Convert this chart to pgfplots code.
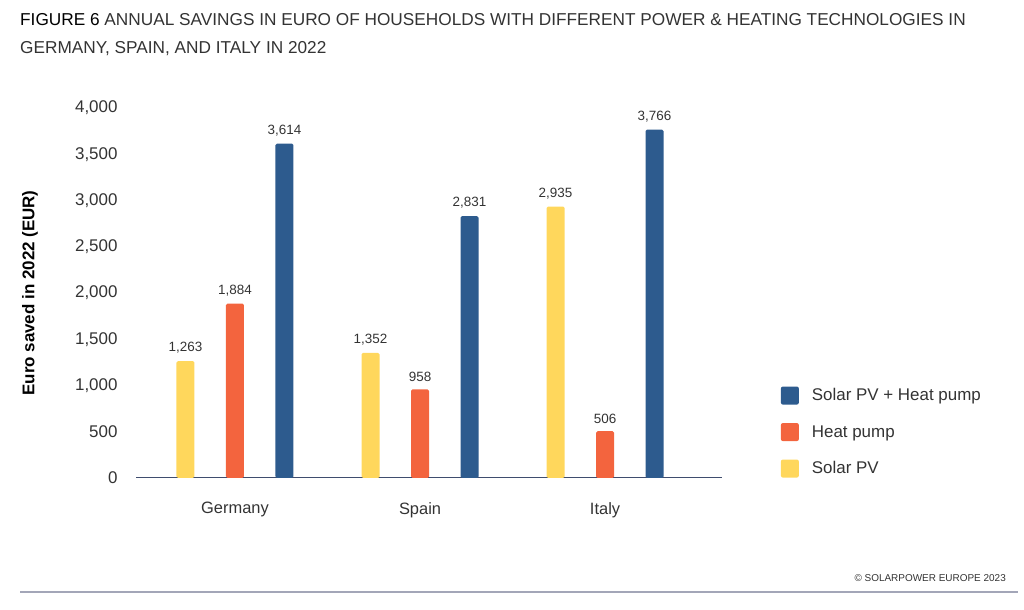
\documentclass[border=0pt]{standalone}
\usepackage{pgfplots}
\pgfplotsset{compat=1.18}
\usepackage{fontspec}
\setmainfont{Liberation Sans}
\definecolor{cyellow}{HTML}{FFD75C}
\definecolor{corange}{HTML}{F3643E}
\definecolor{cblue}{HTML}{2D5B8E}
\definecolor{ctext}{HTML}{333333}
\definecolor{caxis}{HTML}{3F4D6E}
\definecolor{cline}{HTML}{A3A6B8}
\begin{document}
\begin{tikzpicture}[x=1bp,y=1bp]
\path[use as bounding box] (0,0) rectangle (1024,610);
\begin{axis}[
  at={(136bp,132bp)}, anchor=south west,
  scale only axis, width=586bp, height=370bp,
  xmin=-0.535, xmax=2.632, ymin=0, ymax=4000,
  axis x line*=bottom, axis y line*=left,
  x axis line style={draw=caxis, line width=1bp, -},
  y axis line style={draw=none},
  major tick length=0pt,
  ytick={0,500,...,4000},
  xtick={0,1,2}, xticklabels={Germany,Spain,Italy},
  /pgf/number format/.cd, 1000 sep={,}, assume math mode=true, /pgfplots/.cd,
  ticklabel style={text=ctext},
  yticklabel style={font=\fontsize{17}{20}\selectfont, xshift=-15bp},
  xticklabel style={font=\fontsize{16.5}{19}\selectfont, yshift=-21bp},
  ylabel={\bfseries Euro saved in 2022 (EUR)},
  ylabel style={at={(axis description cs:-0.181,0.5)}, anchor=center, font=\fontsize{17}{20}\selectfont, text=black},
  ybar, bar width=18bp,
  nodes near coords,
  nodes near coords style={font=\fontsize{13.5}{16}\selectfont, text=ctext, yshift=4bp},
  reverse legend,
  legend style={draw=none, fill=none, at={(axis description cs:1.095,0.253)}, anchor=north west,
    font=\fontsize{17}{20}\selectfont, text=ctext, row sep=18.5bp, column sep=11bp},
  legend cell align=left,
]
\addplot[fill=cyellow, draw=none, rounded corners=1.5bp, bar shift=-49.5bp,
  legend image code/.code={\fill[cyellow, rounded corners=2bp] (0bp,-9bp) rectangle (18bp,9bp);}]
  coordinates {(0,1263) (1,1352) (2,2935)};
\addlegendentry{Solar PV}
\addplot[fill=corange, draw=none, rounded corners=1.5bp, bar shift=0bp,
  legend image code/.code={\fill[corange, rounded corners=2bp] (0bp,-9bp) rectangle (18bp,9bp);}]
  coordinates {(0,1884) (1,958) (2,506)};
\addlegendentry{Heat pump}
\addplot[fill=cblue, draw=none, rounded corners=1.5bp, bar shift=49.5bp,
  legend image code/.code={\fill[cblue, rounded corners=2bp] (0bp,-9bp) rectangle (18bp,9bp);}]
  coordinates {(0,3614) (1,2831) (2,3766)};
\addlegendentry{Solar PV + Heat pump}
\end{axis}
\node[anchor=west, inner sep=0pt, text=ctext] at (20,590) {\scalebox{1.0}[1]{\fontsize{17.3}{20}\selectfont\textcolor{black}{FIGURE 6} ANNUAL SAVINGS IN EURO OF HOUSEHOLDS WITH DIFFERENT POWER \& HEATING TECHNOLOGIES IN}};
\node[anchor=west, inner sep=0pt, text=ctext] at (20,561) {\scalebox{1.0}[1]{\fontsize{17.3}{20}\selectfont GERMANY, SPAIN, AND ITALY IN 2022}};
\node[anchor=east, inner sep=0pt, text=ctext, font=\fontsize{10}{12}\selectfont] at (1006,32) {© SOLARPOWER EUROPE 2023};
\draw[cline, line width=1.5bp] (20,18) -- (1018,18);
\end{tikzpicture}
\end{document}
